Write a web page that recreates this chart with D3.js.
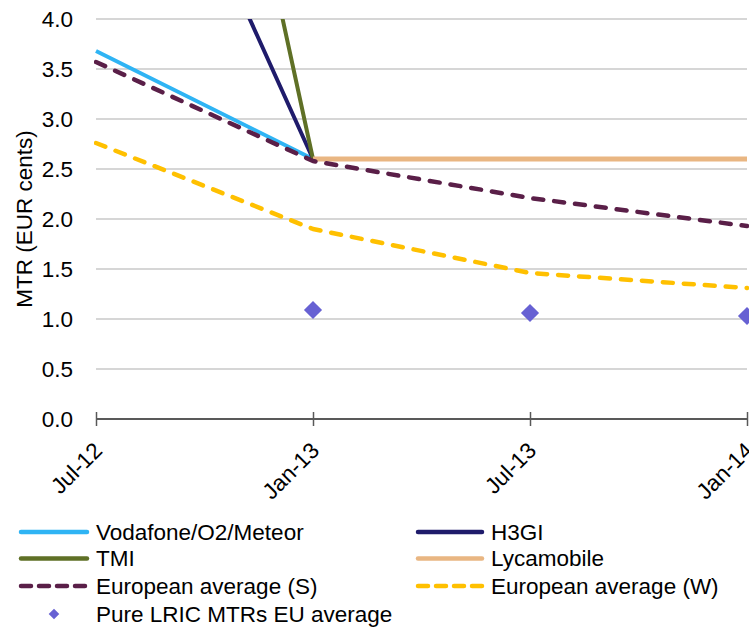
<!DOCTYPE html>
<html>
<head>
<meta charset="utf-8">
<script src="https://cdn.jsdelivr.net/npm/d3@7"></script>
<style>
  html, body { margin: 0; padding: 0; background: #fff; }
  svg { display: block; font-family: "Liberation Sans", Arial, sans-serif; }
</style>
</head>
<body>
<svg id="chart" width="749" height="632"></svg>
<script>
// Reporting dates on the x axis
const periods = ["Jul-12", "Jan-13", "Jul-13", "Jan-14"];

// Mobile termination rates, EUR cents per minute (null = no value)
const vodafoneO2Meteor = [3.68, 2.6, 2.6, 2.6];
const h3gi            = [7.4, 2.6, 2.6, 2.6];
const tmi             = [12.6, 2.6, 2.6, 2.6];
const lycamobile      = [null, 2.6, 2.6, 2.6];
const euAverageS      = [3.57, 2.58, 2.21, 1.93];
const euAverageW      = [2.76, 1.90, 1.46, 1.31];
const pureLricEU      = [null, 1.09, 1.06, 1.03];

const yTicks = [0, 0.5, 1, 1.5, 2, 2.5, 3, 3.5, 4];

const FONT = 22.5;

const lineSeries = [
  { name: "Vodafone/O2/Meteor", values: vodafoneO2Meteor, color: "#2fb4f4", width: 4, dash: null },
  { name: "H3GI", values: h3gi, color: "#1f1b6b", width: 4, dash: null },
  { name: "TMI", values: tmi, color: "#5f7026", width: 4, dash: null },
  { name: "Lycamobile", values: lycamobile, color: "#e9b682", width: 5, dash: null },
  { name: "European average (S)", values: euAverageS, color: "#5a1f48", width: 4.5, dash: "10,11" },
  { name: "European average (W)", values: euAverageW, color: "#ffc000", width: 4.5, dash: "10,11" }
];
const markerSeries = { name: "Pure LRIC MTRs EU average", values: pureLricEU, color: "#6761d3" };

const svg = d3.select("#chart");
const plot = { left: 96, right: 747, top: 19, bottom: 419 };

const x = d3.scalePoint().domain(periods).range([plot.left, plot.right]);
const y = d3.scaleLinear().domain([0, 4]).range([plot.bottom, plot.top]);

// Horizontal gridlines
svg.append("g")
  .selectAll("line")
  .data(yTicks.filter(t => t > 0))
  .join("line")
  .attr("x1", plot.left).attr("x2", plot.right)
  .attr("y1", d => y(d)).attr("y2", d => y(d))
  .attr("stroke", "#c8c8c8").attr("stroke-width", 1.5);

// Y axis tick labels (no axis line)
const yAxis = svg.append("g")
  .attr("transform", `translate(${plot.left},0)`)
  .call(d3.axisLeft(y).tickValues(yTicks).tickFormat(d3.format(".1f")).tickSize(0).tickPadding(23));
yAxis.select(".domain").remove();
yAxis.selectAll("text")
  .attr("font-size", FONT).attr("fill", "#000")
  .attr("font-family", "'Liberation Sans', Arial, sans-serif");

// Y axis title
svg.append("text")
  .attr("transform", `translate(32,${(plot.top + plot.bottom) / 2}) rotate(-90)`)
  .attr("text-anchor", "middle")
  .attr("font-size", FONT)
  .text("MTR (EUR cents)");

// X axis with crossing tick marks
const xAxis = svg.append("g")
  .attr("transform", `translate(0,${plot.bottom})`)
  .call(d3.axisBottom(x).tickSize(0).tickSizeOuter(0));
xAxis.select(".domain").attr("d", `M${plot.left},0H${plot.right}`).attr("stroke", "#595959").attr("stroke-width", 2);
xAxis.selectAll(".tick line").attr("y1", -7).attr("y2", 7).attr("stroke", "#595959").attr("stroke-width", 1.5);
xAxis.selectAll(".tick text")
  .attr("font-size", FONT).attr("fill", "#000")
  .attr("font-family", "'Liberation Sans', Arial, sans-serif")
  .attr("text-anchor", "end")
  .attr("dy", null)
  .attr("y", 0)
  .attr("transform", "translate(7,33) rotate(-45)");

// Series lines, clipped to the plotting area
svg.append("clipPath").attr("id", "plotClip")
  .append("rect")
  .attr("x", plot.left - 2).attr("y", plot.top)
  .attr("width", 749 - plot.left + 2).attr("height", plot.bottom - plot.top);

const line = d3.line()
  .defined(d => d != null)
  .x((d, i) => x(periods[i]))
  .y(d => y(d));

const lines = svg.append("g").attr("clip-path", "url(#plotClip)");
lineSeries.forEach(s => {
  lines.append("path")
    .attr("d", line(s.values))
    .attr("fill", "none")
    .attr("stroke", s.color)
    .attr("stroke-width", s.width)
    .attr("stroke-linecap", s.dash ? "round" : "butt")
    .attr("stroke-linejoin", "round")
    .attr("stroke-dasharray", s.dash);
});

// Pure LRIC markers
const diamond = d3.symbol().type(d3.symbolSquare).size(165);
svg.append("g")
  .selectAll("path")
  .data(markerSeries.values.map((v, i) => ({ v, p: periods[i] })).filter(d => d.v != null))
  .join("path")
  .attr("d", diamond)
  .attr("transform", d => `translate(${x(d.p)},${y(d.v)}) rotate(45)`)
  .attr("fill", markerSeries.color);

// Legend
const legendRows = [532, 558.5, 586, 614];
const legendItems = [
  { s: lineSeries[0], col: 0, row: 0 },
  { s: lineSeries[1], col: 1, row: 0 },
  { s: lineSeries[2], col: 0, row: 1 },
  { s: lineSeries[3], col: 1, row: 1 },
  { s: lineSeries[4], col: 0, row: 2 },
  { s: lineSeries[5], col: 1, row: 2 }
];
const legendCols = [{ x1: 19, x2: 89, tx: 96 }, { x1: 416, x2: 484, tx: 491 }];
const legend = svg.append("g");
legendItems.forEach(item => {
  const c = legendCols[item.col];
  const ly = legendRows[item.row];
  legend.append("line")
    .attr("x1", c.x1 + 2).attr("x2", c.x2 - 2)
    .attr("y1", ly).attr("y2", ly)
    .attr("stroke", item.s.color)
    .attr("stroke-width", 4.5)
    .attr("stroke-linecap", "round")
    .attr("stroke-dasharray", item.s.dash ? "10,8" : null);
  legend.append("text")
    .attr("x", c.tx).attr("y", ly).attr("dy", "0.35em")
    .attr("font-size", FONT)
    .text(item.s.name);
});
legend.append("path")
  .attr("d", d3.symbol().type(d3.symbolSquare).size(56))
  .attr("transform", `translate(54,${legendRows[3]}) rotate(45)`)
  .attr("fill", markerSeries.color);
legend.append("text")
  .attr("x", legendCols[0].tx).attr("y", legendRows[3]).attr("dy", "0.35em")
  .attr("font-size", FONT)
  .text(markerSeries.name);
</script>
</body>
</html>
